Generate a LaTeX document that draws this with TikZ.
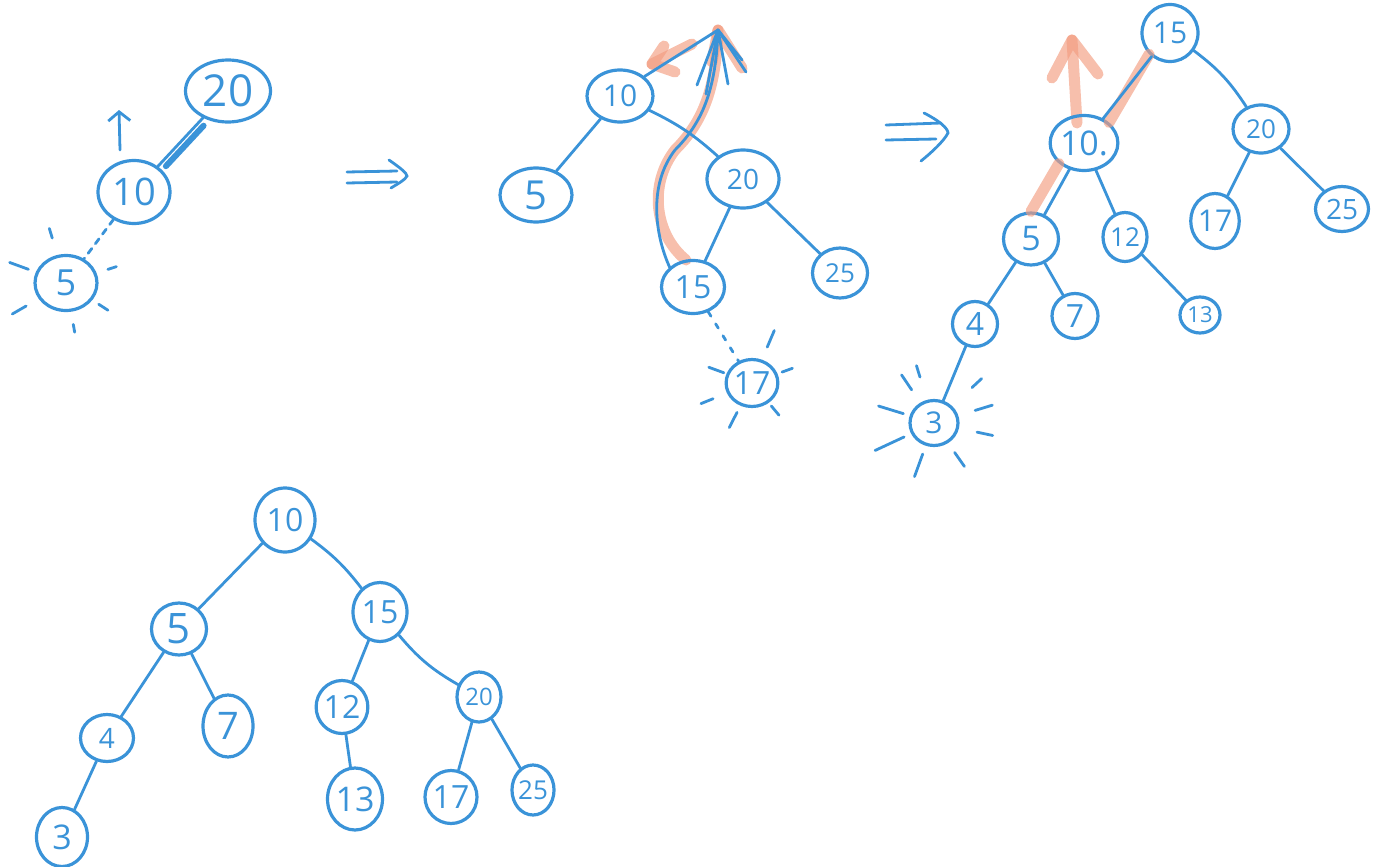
\documentclass[tikz,border=0pt]{standalone}
\usepackage{fontspec}
\setmainfont{Open Sans}
\usetikzlibrary{shapes.geometric,arrows.meta,calc}
\definecolor{sk}{HTML}{3A93D8}
\definecolor{hlc}{HTML}{F29C80}
\tikzset{
 nd/.style={draw=sk,line width=3.2pt,ellipse,inner sep=0pt,text=sk},
 ed/.style={draw=sk,line width=2.8pt,line cap=round},
 hl/.style={draw=hlc,line width=11pt,line cap=round,line join=round,opacity=0.65},
 barb/.style={-{Straight Barb[length=9pt,width=22pt]}},
}
\newcommand\tnode[7]{\node[nd,minimum width=#4pt,minimum height=#5pt,font=\fontsize{#7}{#7}\selectfont] (#1) at (#2,#3) {#6};}
\newcommand\sunrays[2]{\foreach \a/\ra/\rb in {#2}{\draw[ed] ($(#1)+(\a:\ra)$) -- ($(#1)+(\a:\rb)$);}}
\begin{document}
\begin{tikzpicture}[x=1pt,y=-1pt]
\useasboundingbox (0,0) rectangle (1384,867);

% ---------- tree 1
\tnode{a20}{228}{91}{85}{62}{20}{44}
\tnode{a10}{134}{192}{72}{63}{10}{38}
\tnode{a5}{66}{283}{62}{55}{5}{36}
\draw[ed] (a10) -- (a20);
\draw[ed,line width=6pt,shorten <=3pt,shorten >=8pt,transform canvas={xshift=6pt,yshift=-2pt}] (a10) -- (a20);
\draw[ed,dash pattern=on 6pt off 6pt] (a10) -- (a5);
\coordinate (a10top) at (120,150);
\coordinate (up1) at (119,110);
\draw[ed,barb] (a10top) -- (up1);
\sunrays{a5}{253/47/57, 200/40/60, 342/44/53, 150/46/62, 80/42/50, 33/39/50}

% ---------- double arrow 1
\begin{scope}[shift={(347,172)}]
 \draw[ed] (0,0) -- (50,-1);
 \draw[ed] (0,11) -- (50,10);
 \draw[ed] (42,-12) .. controls (52,-5) and (60,1) .. (60,4) .. controls (58,8) and (52,11) .. (44,16);
\end{scope}

% ---------- tree 2
\coordinate (t2) at (718,30);
\draw[hl] (686,260) .. controls (655,235) and (648,185) .. (675,150) .. controls (705,120) and (716,85) .. (t2);
\draw[hl] (712,62) -- (t2) -- (742,68);
\draw[hl] (692,44) -- (652,64);
\draw[hl] (664,46) -- (652,64) -- (675,72);
\tnode{b10}{620}{96}{66}{52}{10}{30}
\tnode{b5}{536}{195}{72}{54}{5}{40}
\tnode{b20}{743}{179}{72}{58}{20}{28}
\tnode{b15}{693}{287}{63}{53}{15}{32}
\tnode{b25}{840}{273}{55}{50}{25}{26}
\tnode{b17}{752}{383}{50}{47}{17}{32}
\draw[ed] (b10) -- (b5);
\draw[ed] (b10) to[bend left=8] (b20);
\draw[ed] (b20) -- (b15);
\draw[ed] (b20) -- (b25);
\draw[ed,dash pattern=on 5pt off 9pt] (b15) -- (b17);
\draw[ed] (b15.north west) .. controls (655,235) and (648,185) .. (675,150) .. controls (705,120) and (716,85) .. (t2);
\draw[ed] (b10.north east) -- (t2);
\draw[ed] (t2) -- (697,85);
\draw[ed] (t2) -- (706,94);
\draw[ed] (t2) -- (728,84);
\draw[ed] (t2) -- (746,72);
\draw[ed] (t2) -- (742,60);
\sunrays{b17}{200/30/46, 340/32/43, 158/42/55, 117/33/50, 50/30/42, 293/39/57}

% ---------- double arrow 2
\begin{scope}[shift={(886,125)}]
 \draw[ed] (0,0) -- (55,-2);
 \draw[ed] (0,15) -- (50,14);
 \draw[ed] (38,-12) .. controls (52,-5) and (62,3) .. (62,8) .. controls (58,16) and (45,28) .. (35,36);
\end{scope}

% ---------- tree 3
\coordinate (c10up) at (1072,40);
\draw[hl] (1077,123) -- (c10up);
\draw[hl] (1052,78) -- (c10up) -- (1098,74);
\tnode{c15}{1170}{33}{56}{57}{15}{30}
\tnode{c10}{1084}{143}{62}{55}{10.}{34}
\tnode{c20}{1261}{129}{56}{48}{20}{26}
\tnode{c5}{1031}{239}{55}{52}{5}{34}
\tnode{c12}{1125}{237}{44}{49}{12}{26}
\tnode{c17}{1215}{221}{46}{55}{17}{30}
\tnode{c25}{1342}{209}{53}{45}{25}{28}
\tnode{c4}{975}{324}{45}{45}{4}{32}
\tnode{c7}{1075}{316}{46}{45}{7}{32}
\tnode{c13}{1200}{315}{40}{36}{13}{22}
\tnode{c3}{934}{423}{48}{45}{3}{30}
\draw[hl] (c10.north east) -- (c15.south west);
\draw[hl] (c5.north) -- (c10.south west);
\draw[ed] (c10) -- (c15);
\draw[ed] (c15) to[bend left=10] (c20);
\draw[ed] (c10) -- (c5);
\draw[ed] (c10) -- (c12);
\draw[ed] (c20) -- (c17);
\draw[ed] (c20) -- (c25);
\draw[ed] (c5) -- (c4);
\draw[ed] (c5) -- (c7);
\draw[ed] (c12) -- (c13);
\draw[ed] (c4) -- (c3);
\sunrays{c3}{236/40/58, 253/48/60, 317/52/65, 343/43/61, 12/44/60, 197/32/58, 155/33/65, 110/33/57, 55/36/53}

% ---------- tree 4
\tnode{d10}{285}{520}{60}{64}{10}{32}
\tnode{d5}{179}{629}{55}{52}{5}{42}
\tnode{d15}{380}{612}{54}{59}{15}{32}
\tnode{d4}{107}{738}{53}{47}{4}{28}
\tnode{d7}{228}{726}{50}{62}{7}{38}
\tnode{d12}{342}{707}{49}{53}{12}{32}
\tnode{d20}{479}{697}{44}{50}{20}{24}
\tnode{d3}{62}{837}{51}{59}{3}{34}
\tnode{d13}{355}{799}{54}{62}{13}{34}
\tnode{d17}{451}{797}{52}{53}{17}{32}
\tnode{d25}{533}{790}{40}{50}{25}{26}
\draw[ed] (d10) -- (d5);
\draw[ed] (d10) to[bend left=8] (d15);
\draw[ed] (d5) -- (d4);
\draw[ed] (d5) -- (d7);
\draw[ed] (d4) -- (d3);
\draw[ed] (d15) -- (d12);
\draw[ed] (d15) to[bend right=10] (d20);
\draw[ed] (d12) -- (d13);
\draw[ed] (d20) -- (d17);
\draw[ed] (d20) -- (d25);
\end{tikzpicture}
\end{document}
